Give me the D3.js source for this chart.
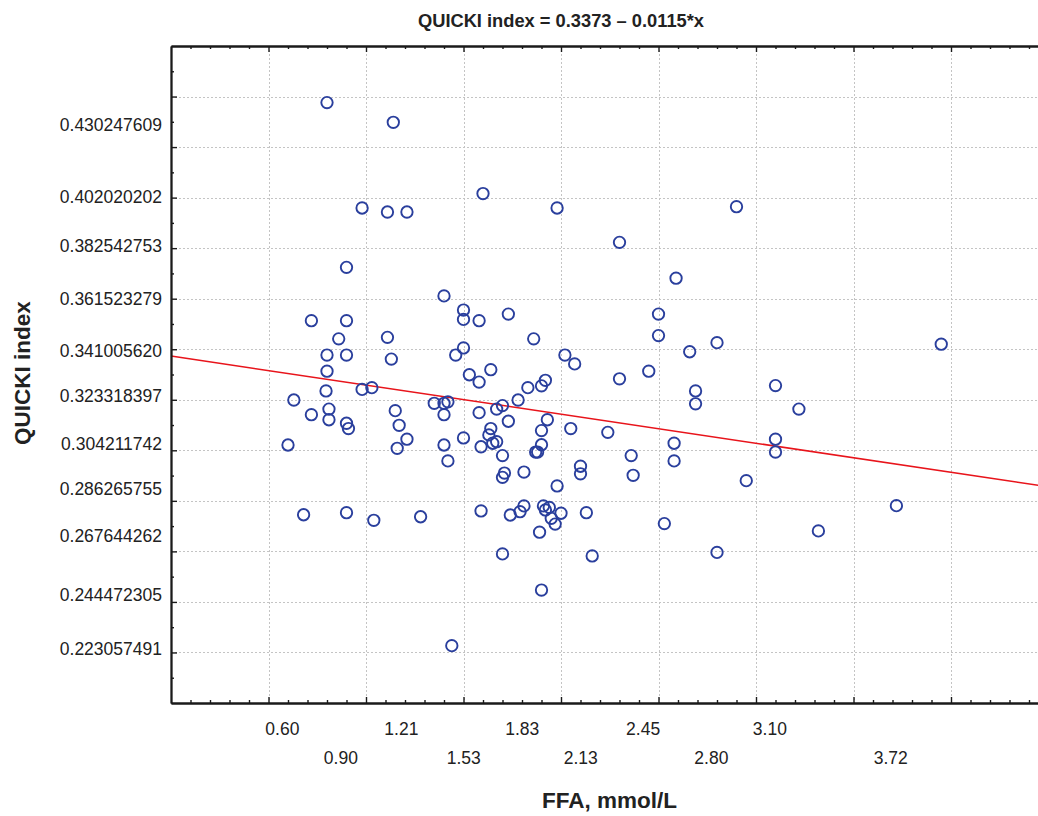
<!DOCTYPE html>
<html>
<head>
<meta charset="utf-8">
<script src="https://cdn.jsdelivr.net/npm/d3@7"></script>
<style>
  html, body { margin: 0; padding: 0; background: #fff; }
  svg { display: block; font-family: "Liberation Sans", Arial, Helvetica, sans-serif; }
</style>
</head>
<body>
<svg id="chart" width="1038" height="816"></svg>
<script>
// ---- Data ----
const ffa = [
  0.80, 1.14, 1.60, 1.98, 0.98, 1.11, 1.21, 0.90, 1.40, 1.50,
  1.50, 1.58, 1.73, 0.72, 0.90, 2.90, 2.30, 2.59, 2.50, 2.50,
  0.86, 1.11, 0.80, 0.90, 1.13, 1.50, 1.46, 1.86, 2.02, 2.07,
  0.80, 1.53, 1.58, 1.64, 0.795, 0.98, 1.03, 0.63, 0.72, 0.81,
  0.81, 0.90, 0.91, 1.15, 1.17, 1.21, 1.16, 0.60, 1.35, 1.40,
  1.42, 1.40, 1.40, 1.42, 1.50, 1.58, 1.59, 1.64, 1.63, 1.65,
  1.67, 1.67, 1.70, 1.78, 1.73, 1.83, 1.90, 1.92, 1.93, 1.90,
  1.90, 1.87, 1.88, 1.70, 1.71, 1.70, 1.81, 2.05, 2.10, 2.10,
  1.98, 2.24, 0.68, 0.90, 1.04, 1.28, 1.59, 1.74, 1.79, 1.81,
  1.91, 1.92, 1.94, 1.95, 1.97, 2.00, 2.13, 1.89, 1.70, 2.16,
  1.90, 1.44, 2.66, 2.80, 3.95, 2.30, 2.45, 2.69, 2.69, 3.10,
  3.22, 2.36, 2.37, 2.58, 2.58, 2.95, 3.10, 3.10, 3.72, 2.53,
  2.80, 3.32
];
const quicki = [
  0.4376, 0.4298, 0.4016, 0.3959, 0.3959, 0.3943, 0.3943, 0.3724, 0.3611, 0.3555,
  0.3518, 0.3513, 0.3539, 0.3513, 0.3513, 0.3964, 0.3823, 0.3681, 0.3539, 0.3454,
  0.3441, 0.3447, 0.3377, 0.3377, 0.3361, 0.3405, 0.3377, 0.3441, 0.3377, 0.3342,
  0.3313, 0.3299, 0.3270, 0.3319, 0.3235, 0.3241, 0.3248, 0.3199, 0.3141, 0.3163,
  0.3121, 0.3107, 0.3086, 0.3157, 0.3099, 0.3044, 0.3008, 0.3021, 0.3186, 0.3186,
  0.3192, 0.3141, 0.3021, 0.2958, 0.3049, 0.3149, 0.3014, 0.3086, 0.3061, 0.3028,
  0.3034, 0.3163, 0.3177, 0.3199, 0.3115, 0.3248, 0.3255, 0.3277, 0.3121, 0.3078,
  0.3022, 0.2993, 0.2993, 0.2979, 0.2910, 0.2893, 0.2914, 0.3086, 0.2937, 0.2907,
  0.2859, 0.3071, 0.2745, 0.2753, 0.2723, 0.2737, 0.2760, 0.2744, 0.2757, 0.2780,
  0.2780, 0.2764, 0.2774, 0.2731, 0.2708, 0.2751, 0.2753, 0.2676, 0.2590, 0.2582,
  0.2447, 0.2227, 0.3390, 0.3426, 0.3420, 0.3283, 0.3313, 0.3235, 0.3184, 0.3256,
  0.3163, 0.2979, 0.2901, 0.3028, 0.2958, 0.2880, 0.3044, 0.2993, 0.2781, 0.2710,
  0.2596, 0.2681
];
const regression = [0.3373, -0.0115];   // intercept, slope
const xLabelsRow1 = ["0.60", "1.21", "1.83", "2.45", "3.10"];
const xLabelsRow2 = ["0.90", "1.53", "2.13", "2.80", "3.72"];
const yLabels = ["0.430247609", "0.402020202", "0.382542753", "0.361523279", "0.341005620",
                 "0.323318397", "0.304211742", "0.286265755", "0.267644262", "0.244472305",
                 "0.223057491"];
const titleText = "QUICKI index = 0.3373 \u2013 0.0115*x";
const xTitle = "FFA, mmol/L";
const yTitle = "QUICKI index";

// ---- Layout ----
const svg = d3.select("#chart");
const mLeft = 171, mTop = 46, mBottom = 703;
const x = d3.scaleLinear().domain([0, 4.5]).range([mLeft, 1048.5]);
const y = d3.scaleLinear().domain([0.20, 0.46]).range([mBottom, mTop]);

const xMajor = d3.range(0.5, 4.01, 0.5);
const xMinor = d3.range(1, 45).map(d => d / 10).filter(d => Math.round(d * 10) % 5 !== 0);
const yMajor = d3.range(22, 45, 2).map(d => d / 100);
const yMinor = d3.range(21, 46, 2).map(d => d / 100);

// gridlines
const grid = svg.append("g").attr("stroke", "#c4c4c4").attr("stroke-width", 1).attr("stroke-dasharray", "2,2");
grid.selectAll("line.v").data(xMajor).join("line").attr("class", "v")
  .attr("x1", d => Math.round(x(d)) + 0.5).attr("x2", d => Math.round(x(d)) + 0.5)
  .attr("y1", mTop).attr("y2", mBottom);
grid.selectAll("line.h").data(yMajor).join("line").attr("class", "h")
  .attr("y1", d => Math.round(y(d)) + 0.5).attr("y2", d => Math.round(y(d)) + 0.5)
  .attr("x1", mLeft).attr("x2", 1048.5);

// regression line
svg.append("line")
  .attr("x1", x(0)).attr("y1", y(regression[0]))
  .attr("x2", x(4.5)).attr("y2", y(regression[0] + regression[1] * 4.5))
  .attr("stroke", "#e8141b").attr("stroke-width", 1.5);

// points
svg.append("g").selectAll("circle").data(ffa.map((d, i) => [d, quicki[i]])).join("circle")
  .attr("cx", d => x(d[0])).attr("cy", d => y(d[1])).attr("r", 5.7)
  .attr("fill", "none").attr("stroke", "#2a3f9d").attr("stroke-width", 1.9);

// axes
function styleAxis(g) {
  g.selectAll("path.domain").attr("stroke", "#1a1a1a").attr("stroke-width", 1.8);
  g.selectAll(".tick line").attr("stroke", "#1a1a1a").attr("stroke-width", 1.4);
  g.selectAll("text").remove();
}
svg.append("g").attr("transform", `translate(0,${mBottom})`)
  .call(d3.axisBottom(x).tickValues(xMajor).tickSize(-6).tickSizeOuter(0).tickFormat(""))
  .call(styleAxis);
svg.append("g").attr("transform", `translate(0,${mBottom})`)
  .call(d3.axisBottom(x).tickValues(xMinor).tickSize(-3).tickSizeOuter(0).tickFormat(""))
  .call(styleAxis);
svg.append("g").attr("transform", `translate(0,${mTop})`)
  .call(d3.axisTop(x).tickValues(xMajor).tickSize(-6).tickSizeOuter(0).tickFormat(""))
  .call(styleAxis);
svg.append("g").attr("transform", `translate(0,${mTop})`)
  .call(d3.axisTop(x).tickValues(xMinor).tickSize(-3).tickSizeOuter(0).tickFormat(""))
  .call(styleAxis);
svg.append("g").attr("transform", `translate(${mLeft},0)`)
  .call(d3.axisLeft(y).tickValues(yMajor).tickSize(-6).tickSizeOuter(0).tickFormat(""))
  .call(styleAxis);
svg.append("g").attr("transform", `translate(${mLeft},0)`)
  .call(d3.axisLeft(y).tickValues(yMinor).tickSize(-3).tickSizeOuter(0).tickFormat(""))
  .call(styleAxis);

// tick labels
svg.append("g").selectAll("text").data(yLabels).join("text")
  .attr("x", 162).attr("y", d => y(+d) + 4).attr("dy", "0.35em")
  .attr("text-anchor", "end").attr("font-size", 17.5).attr("fill", "#222")
  .text(d => d);
svg.append("g").selectAll("text").data(xLabelsRow1).join("text")
  .attr("x", d => x(+d) - 5.6).attr("y", 735)
  .attr("text-anchor", "middle").attr("font-size", 17.5).attr("fill", "#222")
  .text(d => d);
svg.append("g").selectAll("text").data(xLabelsRow2).join("text")
  .attr("x", d => x(+d) - 5.6).attr("y", 764)
  .attr("text-anchor", "middle").attr("font-size", 17.5).attr("fill", "#222")
  .text(d => d);

// titles
svg.append("text").attr("x", 561).attr("y", 27).attr("text-anchor", "middle")
  .attr("font-size", 18.3).attr("font-weight", "bold").attr("fill", "#222").text(titleText);
svg.append("text").attr("x", 609.5).attr("y", 808).attr("text-anchor", "middle")
  .attr("font-size", 22.5).attr("font-weight", "bold").attr("fill", "#222").text(xTitle);
svg.append("text").attr("transform", "translate(30,373) rotate(-90)").attr("text-anchor", "middle")
  .attr("font-size", 22.5).attr("font-weight", "bold").attr("fill", "#222").text(yTitle);
</script>
</body>
</html>
